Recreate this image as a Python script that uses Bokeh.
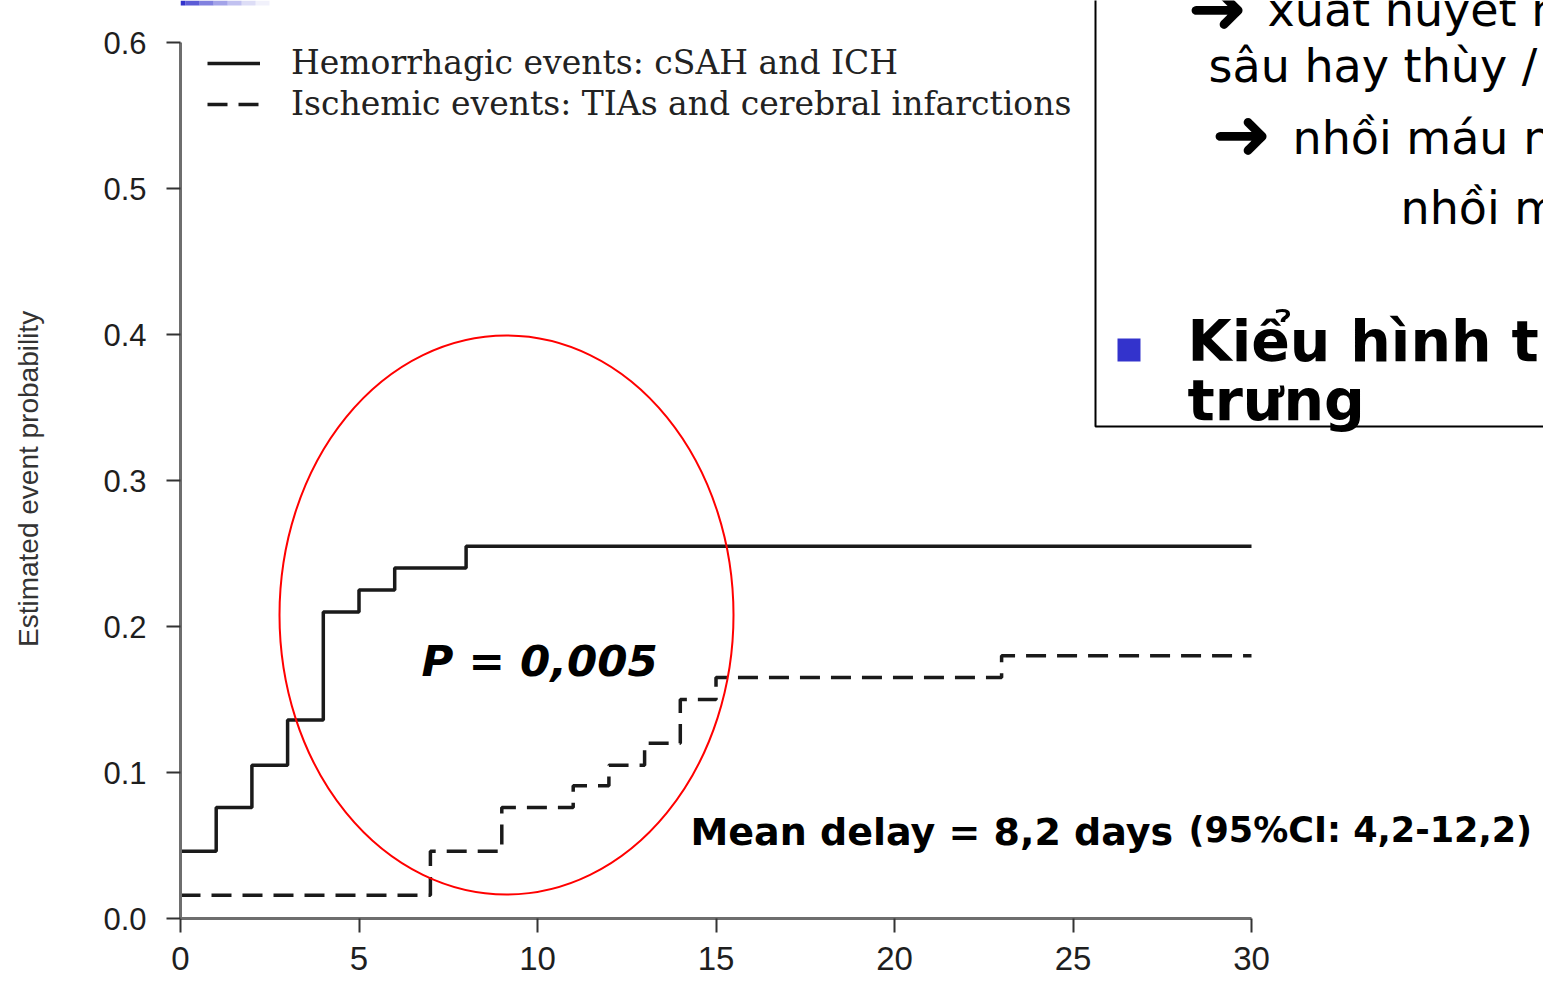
from bokeh.plotting import figure
from bokeh.models import (Range1d, FixedTicker, Label, Legend, LegendItem,
                          BoxAnnotation)
from bokeh.embed import file_html
from bokeh.resources import INLINE

# ---------------- data ----------------
hem_days = [0, 1, 2, 3, 4, 5, 6, 8, 30]
hem_prob = [0.046, 0.076, 0.105, 0.136, 0.210, 0.225, 0.240, 0.255, 0.255]

isc_days = [0, 7, 9, 11, 12, 13, 14, 15, 23, 30]
isc_prob = [0.016, 0.046, 0.076, 0.091, 0.105, 0.120, 0.150, 0.165, 0.180, 0.180]

series_labels = ["Hemorrhagic events: cSAH and ICH",
                 "Ischemic events: TIAs and cerebral infarctions"]

xtick_vals = [0, 5, 10, 15, 20, 25, 30]
xtick_labels = ["0", "5", "10", "15", "20", "25", "30"]
ytick_vals = [0.0, 0.1, 0.2, 0.3, 0.4, 0.5, 0.6]
ytick_labels = ["0.0", "0.1", "0.2", "0.3", "0.4", "0.5", "0.6"]

y_title = "Estimated event probability"
p_text = "P = 0,005"
delay_text = "Mean delay = 8,2 days"
ci_text = "(95%CI: 4,2-12,2)"

slide_lines = ["xuất huyết n", "sâu hay thùy /", "nhồi máu n", "nhồi m"]
slide_bullet = ["Kiểu hình th", "trưng"]
arrow = "➜"

# ---------------- figure ----------------
W, H = 1543, 985
X0, X30 = 180, 1251          # pixel columns of day 0 and day 30
Y0, Y06 = 918, 42            # pixel rows of probability 0 and 0.6
XS = (X30 - X0) / 30.0
YS = (Y0 - Y06) / 0.6

p = figure(width=W, height=H, output_backend="svg", toolbar_location=None,
           x_range=Range1d(0, (W - X0) / XS), y_range=Range1d(0, Y0 / YS),
           min_border_left=X0, min_border_right=0,
           min_border_top=0, min_border_bottom=H - Y0)
p.outline_line_color = None
p.grid.visible = False
p.background_fill_color = "white"
p.border_fill_color = "white"


def dx(px):
    return (px - X0) / XS


def dy(py):
    return (Y0 - py) / YS


# axes
for ax in (p.xaxis[0], p.yaxis[0]):
    ax.axis_line_color = "#6e6e6e"
    ax.axis_line_width = 3
    ax.major_tick_line_color = "#333333"
    ax.major_tick_line_width = 2
    ax.major_tick_out = 14
    ax.major_tick_in = 0
    ax.minor_tick_line_color = None
    ax.major_label_text_color = "#1e1e1e"

p.xaxis.bounds = (xtick_vals[0], xtick_vals[-1])
p.xaxis.ticker = FixedTicker(ticks=xtick_vals)
p.xaxis.major_label_overrides = dict(zip(xtick_vals, xtick_labels))
p.xaxis.major_label_text_font = "Liberation Sans"
p.xaxis.major_label_text_font_size = "33px"
p.xaxis.major_label_standoff = 14

p.yaxis.bounds = (ytick_vals[0], ytick_vals[-1])
p.yaxis.ticker = FixedTicker(ticks=ytick_vals)
p.yaxis.major_label_overrides = dict(zip(ytick_vals, ytick_labels))
p.yaxis.major_label_text_font = "Liberation Sans"
p.yaxis.major_label_text_font_size = "31px"
p.yaxis.major_label_standoff = 20
p.yaxis.axis_label = y_title + "\u00a0" * 5
p.yaxis.axis_label_text_font = "Liberation Sans"
p.yaxis.axis_label_text_font_size = "28px"
p.yaxis.axis_label_text_font_style = "normal"
p.yaxis.axis_label_text_color = "#333333"
p.yaxis.axis_label_standoff = 56

# steps
r_hem = p.step(x=hem_days, y=hem_prob, mode="after", line_width=3.5,
               line_color="#1a1a1a")
r_isc = p.step(x=isc_days, y=isc_prob, mode="after", line_width=3.5,
               line_color="#1a1a1a", line_dash="20 11")

legend = Legend(items=[LegendItem(label=series_labels[0], renderers=[r_hem]),
                       LegendItem(label=series_labels[1], renderers=[r_isc])],
                location=(27, Y0 - 45 - 78), glyph_width=53, glyph_height=20,
                label_standoff=31, spacing=2, padding=0, margin=0,
                border_line_color=None, background_fill_alpha=0,
                label_text_font="DejaVu Serif", label_text_font_size="33px",
                label_text_color="#222222")
p.add_layout(legend)

# red ellipse
p.ellipse(x=dx(506), y=dy(614.5), width=454 / XS, height=559 / YS,
          fill_color=None, line_color="#ff0000", line_width=2)

SHIFT = 0.43  # empirical correction for the label baseline


def lab(text, px, py, size, font="DejaVu Sans", style="normal", color="black"):
    return Label(x=dx(px), y=dy(py - SHIFT * size), text=text, text_font=font,
                 text_font_size=f"{size}px", text_font_style=style,
                 text_color=color, text_baseline="alphabetic",
                 text_align="left")


p.add_layout(lab(p_text, 421, 679, 43.5, style="bold italic"))
p.add_layout(lab(delay_text, 690, 848, 38, style="bold"))
p.add_layout(lab(ci_text, 1188, 845, 35, style="bold"))

# right-hand slide box
p.add_layout(BoxAnnotation(left=dx(1095), right=dx(1700), bottom=dy(426),
                           top=dy(-40), fill_alpha=0, line_color="black",
                           line_alpha=1, line_width=2))
p.add_layout(BoxAnnotation(left=dx(1117), right=dx(1140), bottom=dy(361),
                           top=dy(338), fill_color="#3333cc", fill_alpha=1,
                           line_color=None))
p.add_layout(lab(arrow, 1187, 38, 72))
p.add_layout(lab(slide_lines[0], 1267, 29, 46))
p.add_layout(lab(slide_lines[1], 1208, 85, 46))
p.add_layout(lab(arrow, 1211, 164, 72))
p.add_layout(lab(slide_lines[2], 1292, 157, 46))
p.add_layout(lab(slide_lines[3], 1400, 227, 46))
p.add_layout(lab(slide_bullet[0], 1187, 365, 57, style="bold"))
p.add_layout(lab(slide_bullet[1], 1187, 424, 57, style="bold"))

# top-left slide decoration (part that lies over the plot area)
p.add_layout(BoxAnnotation(left=dx(180), right=dx(185), bottom=dy(5), top=dy(0),
                           fill_color="#3333cc", fill_alpha=1, line_color=None))
for i, a in enumerate([0.8, 0.62, 0.45, 0.3, 0.17, 0.07]):
    p.add_layout(BoxAnnotation(left=dx(185 + 14 * i), right=dx(199 + 14 * i),
                               bottom=dy(5), top=dy(0), fill_color="#3333cc",
                               fill_alpha=a, line_color=None))

open("out.html", "w").write(file_html(p, INLINE))
